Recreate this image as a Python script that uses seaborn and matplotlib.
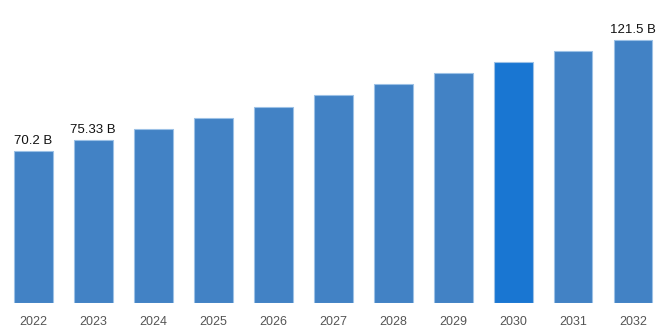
import matplotlib
matplotlib.use("Agg")
import matplotlib.pyplot as plt
import seaborn as sns
import pandas as pd

# Market size by year (USD billions)
years = ["2022", "2023", "2024", "2025", "2026", "2027", "2028", "2029", "2030", "2031", "2032"]
values = [70.2, 75.33, 80.4, 85.5, 90.7, 96.0, 101.2, 106.1, 111.4, 116.3, 121.5]
labels = {"2022": "70.2 B", "2023": "75.33 B", "2032": "121.5 B"}
highlight_year = "2030"

sns.set_theme(style="white")
plt.rcParams["font.family"] = ["Liberation Sans", "DejaVu Sans"]

df = pd.DataFrame({"year": years, "value": values})
base = "#4282c5"
accent = "#1976d2"
palette = {y: (accent if y == highlight_year else base) for y in years}

fig = plt.figure(figsize=(6.68, 3.34), dpi=100)
ax = fig.add_axes([3 / 668, (334 - 303.3) / 334, 660 / 668, 303.3 / 334])

sns.barplot(data=df, x="year", y="value", hue="year", palette=palette,
            legend=False, width=0.65, edgecolor="#9cc1e6", linewidth=0.8,
            saturation=1, ax=ax)

for i, (y, v) in enumerate(zip(years, values)):
    if y in labels:
        ax.annotate(labels[y], (i, v), xytext=(0, 3), textcoords="offset points",
                    ha="center", va="bottom", fontsize=9.5, color="#111111")

ax.set_xlim(-0.5, len(years) - 0.5)
ax.set_ylim(0, 140)
ax.set_xlabel("")
ax.set_ylabel("")
ax.set_yticks([])
ax.tick_params(axis="x", length=0, pad=9, labelsize=9, labelcolor="#555555")
for s in ax.spines.values():
    s.set_visible(False)

fig.savefig("out.png", dpi=100)
